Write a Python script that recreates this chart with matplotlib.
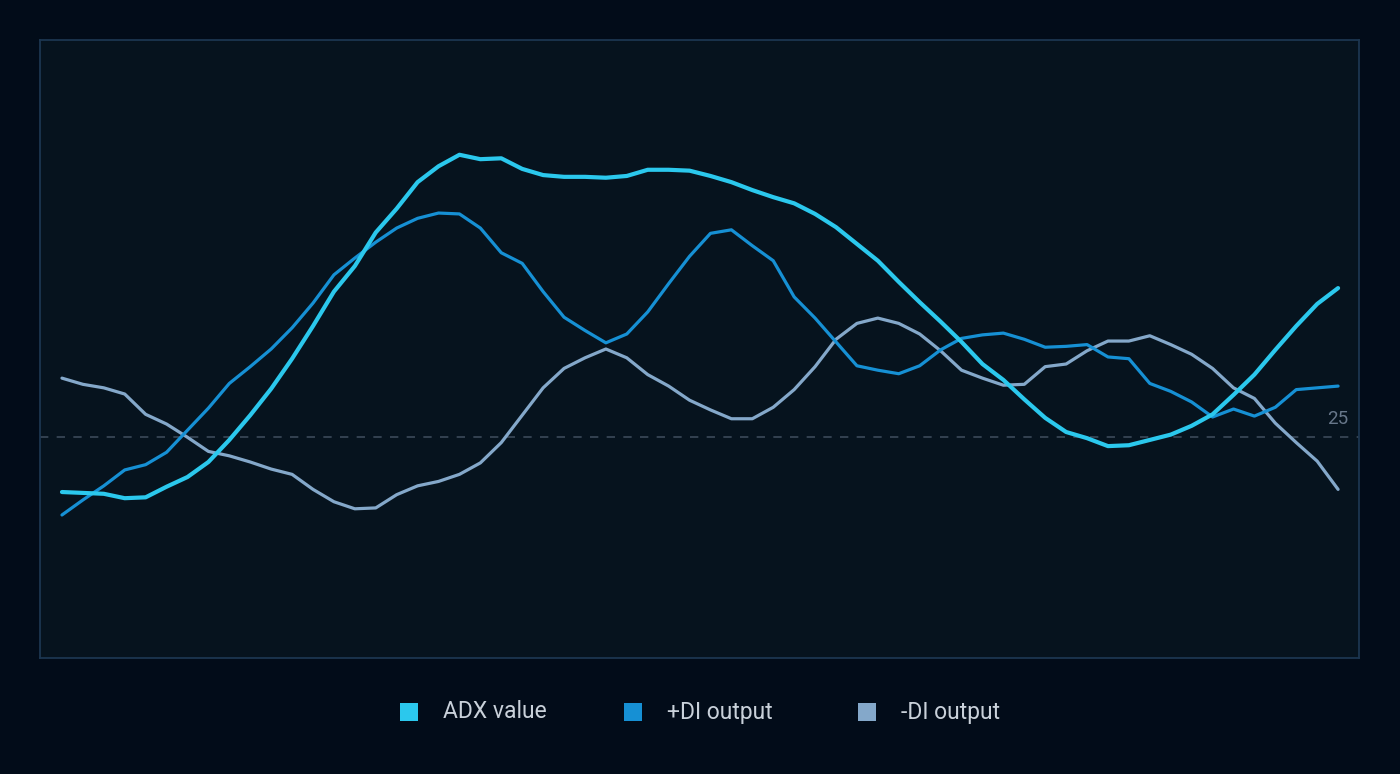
import matplotlib
matplotlib.use("Agg")
import matplotlib.pyplot as plt
from matplotlib.patches import Rectangle

# ---- data ----
adx_value = [18.8, 18.7, 18.6, 18.1, 18.2, 19.4, 20.5, 22.2, 24.7, 27.5,
             30.5, 33.9, 37.6, 41.5, 44.4, 48.2, 50.9, 53.9, 55.7, 57.0,
             56.5, 56.6, 55.4, 54.7, 54.5, 54.5, 54.4, 54.6, 55.3, 55.3,
             55.2, 54.6, 53.9, 53.0, 52.2, 51.5, 50.3, 48.8, 46.9, 45.0,
             42.6, 40.3, 38.1, 35.8, 33.3, 31.5, 29.3, 27.2, 25.6, 24.9,
             24.0, 24.1, 24.7, 25.3, 26.3, 27.6, 29.8, 32.1, 34.9, 37.6,
             40.1, 41.9]
plus_di = [16.2, 17.9, 19.5, 21.3, 21.9, 23.3, 25.8, 28.3, 31.1, 33.0,
           35.0, 37.4, 40.2, 43.4, 45.3, 47.1, 48.7, 49.8, 50.4, 50.3,
           48.7, 45.9, 44.7, 41.5, 38.6, 37.1, 35.7, 36.7, 39.2, 42.4,
           45.5, 48.1, 48.5, 46.7, 45.0, 40.9, 38.5, 35.8, 33.1, 32.6,
           32.2, 33.1, 34.9, 36.2, 36.6, 36.8, 36.1, 35.2, 35.3, 35.5,
           34.1, 33.9, 31.1, 30.2, 29.0, 27.3, 28.2, 27.4, 28.4, 30.4,
           30.6, 30.8]
minus_di = [31.7, 31.0, 30.6, 29.9, 27.6, 26.5, 25.0, 23.4, 22.9, 22.2,
            21.4, 20.8, 19.1, 17.7, 16.9, 17.0, 18.5, 19.5, 20.0, 20.8,
            22.1, 24.4, 27.5, 30.6, 32.8, 34.0, 35.0, 34.0, 32.1, 30.8,
            29.2, 28.1, 27.1, 27.1, 28.4, 30.4, 33.0, 36.1, 37.9, 38.5,
            37.9, 36.7, 34.8, 32.6, 31.7, 30.9, 31.0, 33.0, 33.3, 34.8,
            35.9, 35.9, 36.5, 35.5, 34.4, 32.8, 30.6, 29.4, 26.6, 24.4,
            22.3, 19.1]
threshold = 25
threshold_label = "25"
series_names = ["ADX value", "+DI output", "-DI output"]

# ---- style ----
FIG_BG = "#020c19"
AX_BG = "#06131e"
BORDER = "#1c3650"
C_ADX = "#2bc8ed"
C_PLUS = "#1690d4"
C_MINUS = "#84a8ca"
TEXT = "#c9d1da"

plt.rcParams['font.family'] = ['Roboto', 'DejaVu Sans']

W, H = 1400, 774
fig = plt.figure(figsize=(W / 100, H / 100), dpi=100, facecolor=FIG_BG)
ax = fig.add_axes([40 / W, (H - 658) / H, (1359 - 40) / W, (658 - 40) / H])
ax.set_facecolor(AX_BG)

x = list(range(len(adx_value)))
ax.plot(x, minus_di, color=C_MINUS, lw=2.3, solid_joinstyle='round', solid_capstyle='round', zorder=3)
ax.plot(x, plus_di, color=C_PLUS, lw=2.3, solid_joinstyle='round', solid_capstyle='round', zorder=4)
ax.plot(x, adx_value, color=C_ADX, lw=3.0, solid_joinstyle='round', solid_capstyle='round', zorder=5)

ax.axhline(threshold, color="#3b4a59", lw=1.2, ls=(0, (5, 5)), zorder=2)

ax.set_xlim(-1.05, 62.0)
ax.set_ylim(0, 70)
ax.set_xticks([])
ax.set_yticks([])
for s in ax.spines.values():
    s.set_color(BORDER)
    s.set_linewidth(1.3)

ax.text(1348 / W, (H - 419) / H, threshold_label, transform=fig.transFigure,
        ha='right', va='center', color="#67778a", fontsize=13.5)

# ---- legend ----
colors = [C_ADX, C_PLUS, C_MINUS]
sq_x = [400, 624, 858]
tx_x = [443, 667, 901]
yc = 712
for name, c, sx, tx in zip(series_names, colors, sq_x, tx_x):
    fig.patches.append(Rectangle((sx / W, (H - yc - 9) / H), 18 / W, 18 / H,
                                 transform=fig.transFigure, facecolor=c,
                                 edgecolor='none'))
    fig.text(tx / W, (H - yc) / H, name, color=TEXT, fontsize=16.5,
             ha='left', va='center')

fig.savefig("out.png", dpi=100, facecolor=FIG_BG)
